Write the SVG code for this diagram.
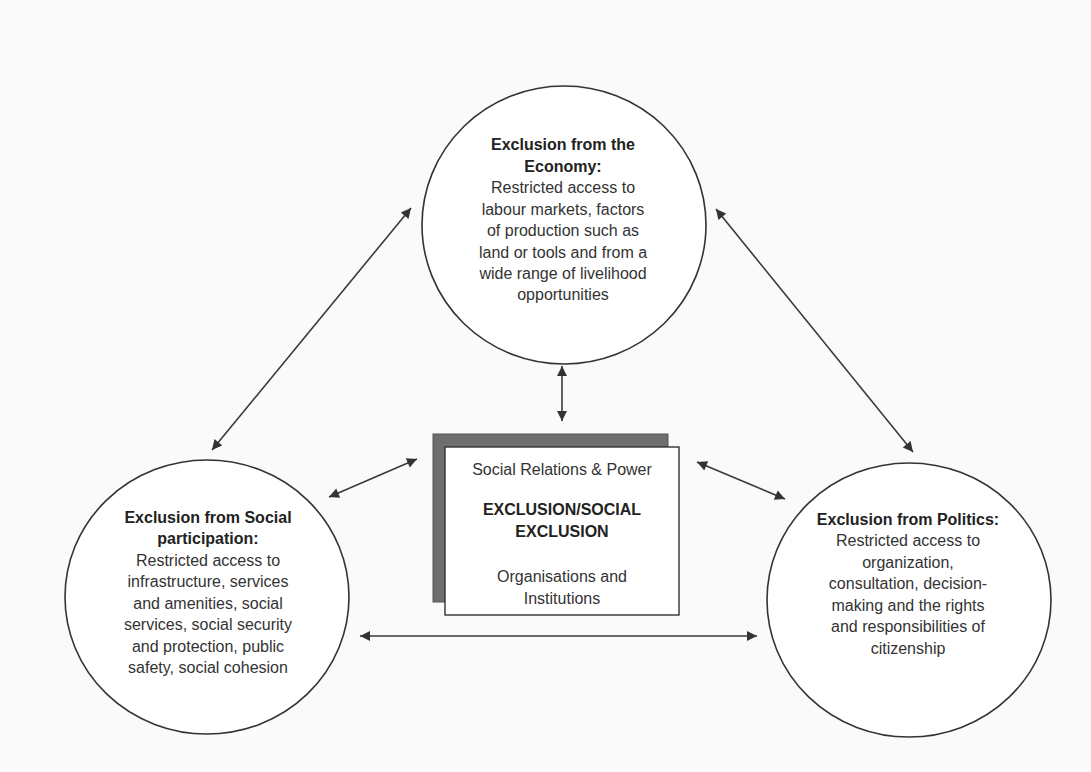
<svg xmlns="http://www.w3.org/2000/svg" width="1091" height="772" viewBox="0 0 1091 772">
<defs>
<marker id="ah" viewBox="0 0 10 10" refX="10" refY="5" markerWidth="12" markerHeight="10" markerUnits="userSpaceOnUse" orient="auto-start-reverse">
<path d="M0,0 L10,5 L0,10 z" fill="#333"/>
</marker>
<style>
.node{fill:#fff;stroke:#333;stroke-width:1.6}
.t{font-family:"Liberation Sans",Arial,sans-serif;font-size:16px;fill:#333;text-anchor:middle}
.b{font-weight:bold;fill:#222}
.c{stroke:#3a3a3a;stroke-width:1.6;fill:none;marker-start:url(#ah);marker-end:url(#ah)}
</style>
</defs>
<rect width="1091" height="772" fill="#fafafa"/>
<g id="connectors">
<line class="c" x1="411" y1="208" x2="212" y2="450"/>
<line class="c" x1="716" y1="209" x2="913" y2="452"/>
<line class="c" x1="562" y1="366" x2="562" y2="421"/>
<line class="c" x1="329" y1="497" x2="417" y2="459"/>
<line class="c" x1="697" y1="462" x2="785" y2="499"/>
<line class="c" x1="360" y1="636" x2="757" y2="636"/>
</g>
<g id="economy">
<ellipse class="node" cx="564" cy="225" rx="142" ry="139"/>
<text class="t b" x="563" y="150">Exclusion from the</text>
<text class="t b" x="563" y="172">Economy:</text>
<text class="t" x="563" y="193">Restricted access to</text>
<text class="t" x="563" y="215">labour markets, factors</text>
<text class="t" x="563" y="236">of production such as</text>
<text class="t" x="563" y="258">land or tools and from a</text>
<text class="t" x="563" y="279">wide range of livelihood</text>
<text class="t" x="563" y="300">opportunities</text>
</g>
<g id="social">
<ellipse class="node" cx="207" cy="597" rx="142" ry="137"/>
<text class="t b" x="208" y="523">Exclusion from Social</text>
<text class="t b" x="208" y="544">participation:</text>
<text class="t" x="208" y="566">Restricted access to</text>
<text class="t" x="208" y="587">infrastructure, services</text>
<text class="t" x="208" y="609">and amenities, social</text>
<text class="t" x="208" y="630">services, social security</text>
<text class="t" x="208" y="652">and protection, public</text>
<text class="t" x="208" y="673">safety, social cohesion</text>
</g>
<g id="politics">
<ellipse class="node" cx="909" cy="600" rx="142" ry="137"/>
<text class="t b" x="908" y="525">Exclusion from Politics:</text>
<text class="t" x="908" y="546">Restricted access to</text>
<text class="t" x="908" y="568">organization,</text>
<text class="t" x="908" y="589">consultation, decision-</text>
<text class="t" x="908" y="611">making and the rights</text>
<text class="t" x="908" y="632">and responsibilities of</text>
<text class="t" x="908" y="654">citizenship</text>
</g>
<g id="center">
<rect x="433" y="434" width="235" height="168" fill="#6e6e6e" stroke="#555" stroke-width="1"/>
<rect x="445" y="447" width="234" height="168" fill="#fff" stroke="#333" stroke-width="1.4"/>
<text class="t" x="562" y="475">Social Relations &amp; Power</text>
<text class="t b" x="562" y="515">EXCLUSION/SOCIAL</text>
<text class="t b" x="562" y="537">EXCLUSION</text>
<text class="t" x="562" y="582">Organisations and</text>
<text class="t" x="562" y="604">Institutions</text>
</g>
</svg>
